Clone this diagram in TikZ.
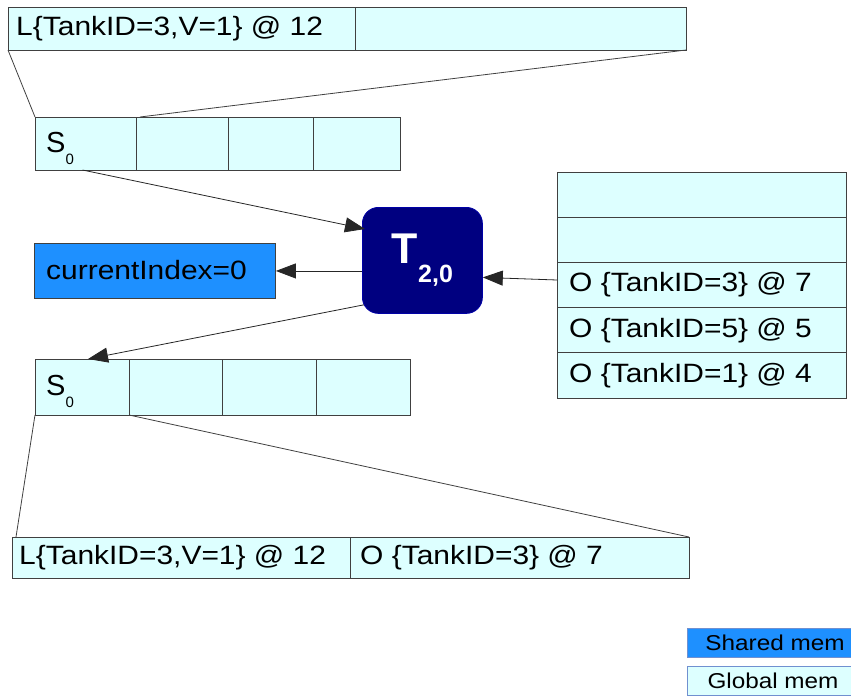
\documentclass[tikz,border=0pt]{standalone}
\usepackage{fontspec}
\setmainfont{Liberation Sans}[FakeStretch=1.13]
\newfontfamily\plainsans{Liberation Sans}
\usetikzlibrary{arrows.meta,calc}
\definecolor{cellfill}{HTML}{DDFFFF}
\definecolor{sharedc}{HTML}{1E90FF}
\definecolor{navyT}{HTML}{000080}
\definecolor{edgec}{HTML}{404040}
\definecolor{legedge}{HTML}{7090D0}
\begin{document}
\begin{tikzpicture}[x=1pt,y=-1pt,
  cell/.style={draw=edgec,fill=cellfill,line width=0.9pt,inner sep=0pt,outer sep=0pt,anchor=north west},
  txt/.style={font=\fontsize{26.5}{26.5}\selectfont,anchor=west,inner sep=0pt},
  stxt/.style={font=\plainsans\fontsize{29}{29}\selectfont,anchor=base west,inner sep=0pt},
  legtxt/.style={font=\fontsize{21.5}{21.5}\selectfont,inner sep=0pt},
  conn/.style={draw=edgec,line width=0.8pt},
  arr/.style={draw=black!85,line width=0.8pt,-{Triangle[length=20pt,width=15pt]}}
]
\useasboundingbox (0,0) rectangle (851,696);
% top bar
\node[cell,minimum width=347pt,minimum height=43pt] (topA) at (8,7) {};
\node[cell,minimum width=331pt,minimum height=43pt] (topB) at (355,7) {};
\node[txt] (topAt) at (16,28.5) {L\{TankID=3,V=1\} @ 12};
% upper S row
\node[cell,minimum width=101pt,minimum height=53pt] (s1a) at (35,117) {};
\node[cell,minimum width=92pt,minimum height=53pt] (s1b) at (136,117) {};
\node[cell,minimum width=85pt,minimum height=53pt] (s1c) at (228,117) {};
\node[cell,minimum width=87pt,minimum height=53pt] (s1d) at (313,117) {};
\node[stxt] (s1t) at (46,152) {S{\fontsize{15}{15}\selectfont\raisebox{-12pt}{0}}};
% current index
\node[draw=edgec,fill=sharedc,line width=0.9pt,inner sep=0pt,anchor=north west,minimum width=241pt,minimum height=55pt] (ci) at (34,243) {};
\node[txt] (cit) at (46,270.5) {currentIndex=0};
% T node
\node[draw=navyT!70!blue,fill=navyT,rounded corners=16pt,line width=0.8pt,anchor=north west,minimum width=120pt,minimum height=106pt,inner sep=0pt,text=white,font=\plainsans\bfseries] (T) at (362,207)
  {\fontsize{43}{43}\selectfont T\fontsize{25}{25}\selectfont\raisebox{-19pt}{2,0}};
% right stack
\node[cell,minimum width=289pt,minimum height=45.2pt] (r1) at (557,172) {};
\node[cell,minimum width=289pt,minimum height=45.2pt] (r2) at (557,217.2) {};
\node[cell,minimum width=289pt,minimum height=45.2pt] (r3) at (557,262.4) {};
\node[cell,minimum width=289pt,minimum height=45.2pt] (r4) at (557,307.6) {};
\node[cell,minimum width=289pt,minimum height=45.2pt] (r5) at (557,352.8) {};
\node[txt] (r3t) at (569,285) {O \{TankID=3\} @ 7};
\node[txt] (r4t) at (569,330.2) {O \{TankID=5\} @ 5};
\node[txt] (r5t) at (569,375.4) {O \{TankID=1\} @ 4};
% lower S row
\node[cell,minimum width=94pt,minimum height=56pt] (s2a) at (35,359) {};
\node[cell,minimum width=93pt,minimum height=56pt] (s2b) at (129,359) {};
\node[cell,minimum width=94pt,minimum height=56pt] (s2c) at (222,359) {};
\node[cell,minimum width=94pt,minimum height=56pt] (s2d) at (316,359) {};
\node[stxt] (s2t) at (46,395) {S{\fontsize{15}{15}\selectfont\raisebox{-12pt}{0}}};
% bottom bar
\node[cell,minimum width=338pt,minimum height=41pt] (b1) at (12,537) {};
\node[cell,minimum width=339pt,minimum height=41pt] (b2) at (350,537) {};
\node[txt] (b1t) at (19,557.5) {L\{TankID=3,V=1\} @ 12};
\node[txt] (b2t) at (360,557.5) {O \{TankID=3\} @ 7};
% legend
\node[draw=legedge,fill=sharedc,line width=0.9pt,anchor=north west,minimum width=175pt,minimum height=29pt,inner sep=0pt] (legS) at (687,628) {};
\node[draw=legedge,fill=cellfill,line width=0.9pt,anchor=north west,minimum width=175pt,minimum height=29pt,inner sep=0pt] (legG) at (687,666) {};
\node[legtxt] (legSt) at (775,642.5) {Shared mem};
\node[legtxt] (legGt) at (773,680.5) {Global mem};
% zoom lines
\draw[conn] (topA.south west) -- (s1a.north west);
\draw[conn] (topB.south east) -- ([xshift=4pt]s1b.north west);
\draw[conn] (s2a.south west) -- ([xshift=4pt]b1.north west);
\draw[conn] (s2b.south west) -- (b2.north east);
% arrows
\draw[arr] ([xshift=-3pt]s1a.south) -- ([xshift=3pt,yshift=-22pt]T.north west);
\draw[arr] (T.west |- ci.east) -- (ci.east);
\draw[arr] ([xshift=2pt,yshift=9pt]T.south west) -- ([xshift=6pt]s2a.north);
\draw[arr] ([yshift=5pt]r3.west) -- ([yshift=-17pt]T.east);
\end{tikzpicture}
\end{document}
